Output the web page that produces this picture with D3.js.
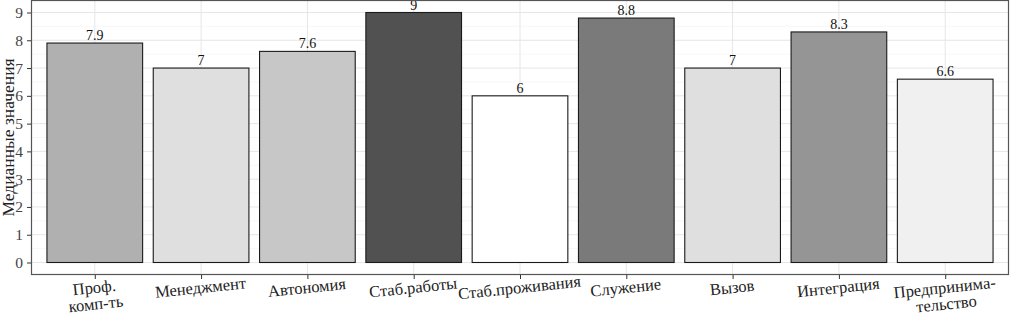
<!DOCTYPE html>
<html>
<head>
<meta charset="utf-8">
<script src="https://cdn.jsdelivr.net/npm/d3@7"></script>
<style>
  body { margin: 0; background: #fff; }
  text { font-family: "Liberation Serif", "DejaVu Serif", serif; }
</style>
</head>
<body>
<div id="chart"></div>
<script>
const categories = [
  ["Проф.", "комп-ть"], ["Менеджмент"], ["Автономия"], ["Стаб.работы"],
  ["Стаб.проживания"], ["Служение"], ["Вызов"], ["Интеграция"],
  ["Предпринима-", "тельство"]
];
const medians = [7.9, 7, 7.6, 9, 6, 8.8, 7, 8.3, 6.6];
const yTicks = [0, 1, 2, 3, 4, 5, 6, 7, 8, 9];
const yTitle = "Медианные значения";

const width = 1010;
const height = 314;
const margin = {top: 0, right: 1, bottom: 39, left: 31};

const svg = d3.select("#chart").append("svg")
  .attr("width", width)
  .attr("height", height);

const keys = categories.map(d => d.join(" "));
const data = keys.map((k, i) => ({key: k, lines: categories[i], value: medians[i]}));

// discrete scale with ggplot-like 0.6 expansion
const step = (width - margin.left - margin.right) / (data.length - 1 + 1.2);
const x = d3.scalePoint()
  .domain(keys)
  .range([margin.left + 0.6 * step, width - margin.right - 0.6 * step]);
const barW = step * 0.9;

const y = d3.scaleLinear()
  .domain([-0.45, 9.45])
  .range([height - margin.bottom, margin.top]);

const fill = d3.scaleLinear()
  .domain([6, 6.6, 7, 7.6, 7.9, 8.3, 8.8, 9])
  .range(["#ffffff", "#f0f0f0", "#dfdfdf", "#c7c7c7", "#b0b0b0", "#959595", "#7a7a7a", "#515151"]);

const panel = svg.append("g");

// minor grid
panel.selectAll(".minor").data(d3.range(0.5, 9.5, 1)).join("line")
  .attr("x1", margin.left).attr("x2", width - margin.right)
  .attr("y1", d => y(d)).attr("y2", d => y(d))
  .attr("stroke", "#f2f2f2").attr("stroke-width", 0.6);

// major grid
panel.selectAll(".major").data(yTicks).join("line")
  .attr("x1", margin.left).attr("x2", width - margin.right)
  .attr("y1", d => y(d)).attr("y2", d => y(d))
  .attr("stroke", "#e6e6e6").attr("stroke-width", 1);

panel.selectAll(".vgrid").data(keys).join("line")
  .attr("x1", d => x(d)).attr("x2", d => x(d))
  .attr("y1", margin.top).attr("y2", height - margin.bottom)
  .attr("stroke", "#e6e6e6").attr("stroke-width", 1);

// bars
panel.selectAll(".bar").data(data).join("rect")
  .attr("x", d => x(d.key) - barW / 2)
  .attr("width", barW)
  .attr("y", d => y(d.value))
  .attr("height", d => y(0) - y(d.value))
  .attr("fill", d => fill(d.value))
  .attr("stroke", "#1a1a1a")
  .attr("stroke-width", 1.1);

// value labels
panel.selectAll(".lbl").data(data).join("text")
  .attr("x", d => x(d.key))
  .attr("y", d => y(d.value) - 3)
  .attr("text-anchor", "middle")
  .attr("font-size", 14)
  .attr("fill", "#111")
  .text(d => d.value);

// panel border
svg.append("rect")
  .attr("x", margin.left + 0.5)
  .attr("y", margin.top + 0.5)
  .attr("width", width - margin.left - margin.right - 1)
  .attr("height", height - margin.bottom - margin.top - 1)
  .attr("fill", "none")
  .attr("stroke", "#555")
  .attr("stroke-width", 1.2);

// y axis
const yAxis = svg.append("g")
  .attr("transform", `translate(${margin.left},0)`)
  .call(d3.axisLeft(y).tickValues(yTicks).tickSize(4).tickPadding(4));
yAxis.select(".domain").remove();
yAxis.selectAll(".tick line").attr("stroke", "#333");
yAxis.selectAll(".tick text")
  .attr("font-size", 15.5)
  .attr("fill", "#444");

// x axis
const xAxis = svg.append("g")
  .attr("transform", `translate(0,${height - margin.bottom})`)
  .call(d3.axisBottom(x).tickSize(4).tickFormat(""));
xAxis.select(".domain").remove();
xAxis.selectAll(".tick line").attr("stroke", "#333");

const xl = svg.append("g").selectAll("text").data(data).join("text")
  .attr("transform", d => `translate(${x(d.key)},${height - margin.bottom + 18}) rotate(-6)`)
  .attr("text-anchor", "middle")
  .attr("font-size", 16.5)
  .attr("fill", "#222");
xl.selectAll("tspan").data(d => d.lines).join("tspan")
  .attr("x", 0)
  .attr("dy", (d, i) => i === 0 ? 0 : 16.5)
  .text(d => d);

// y title
svg.append("text")
  .attr("transform", `translate(14,${(margin.top + height - margin.bottom) / 2}) rotate(-90)`)
  .attr("text-anchor", "middle")
  .attr("font-size", 17.5)
  .attr("fill", "#222")
  .text(yTitle);
</script>
</body>
</html>
